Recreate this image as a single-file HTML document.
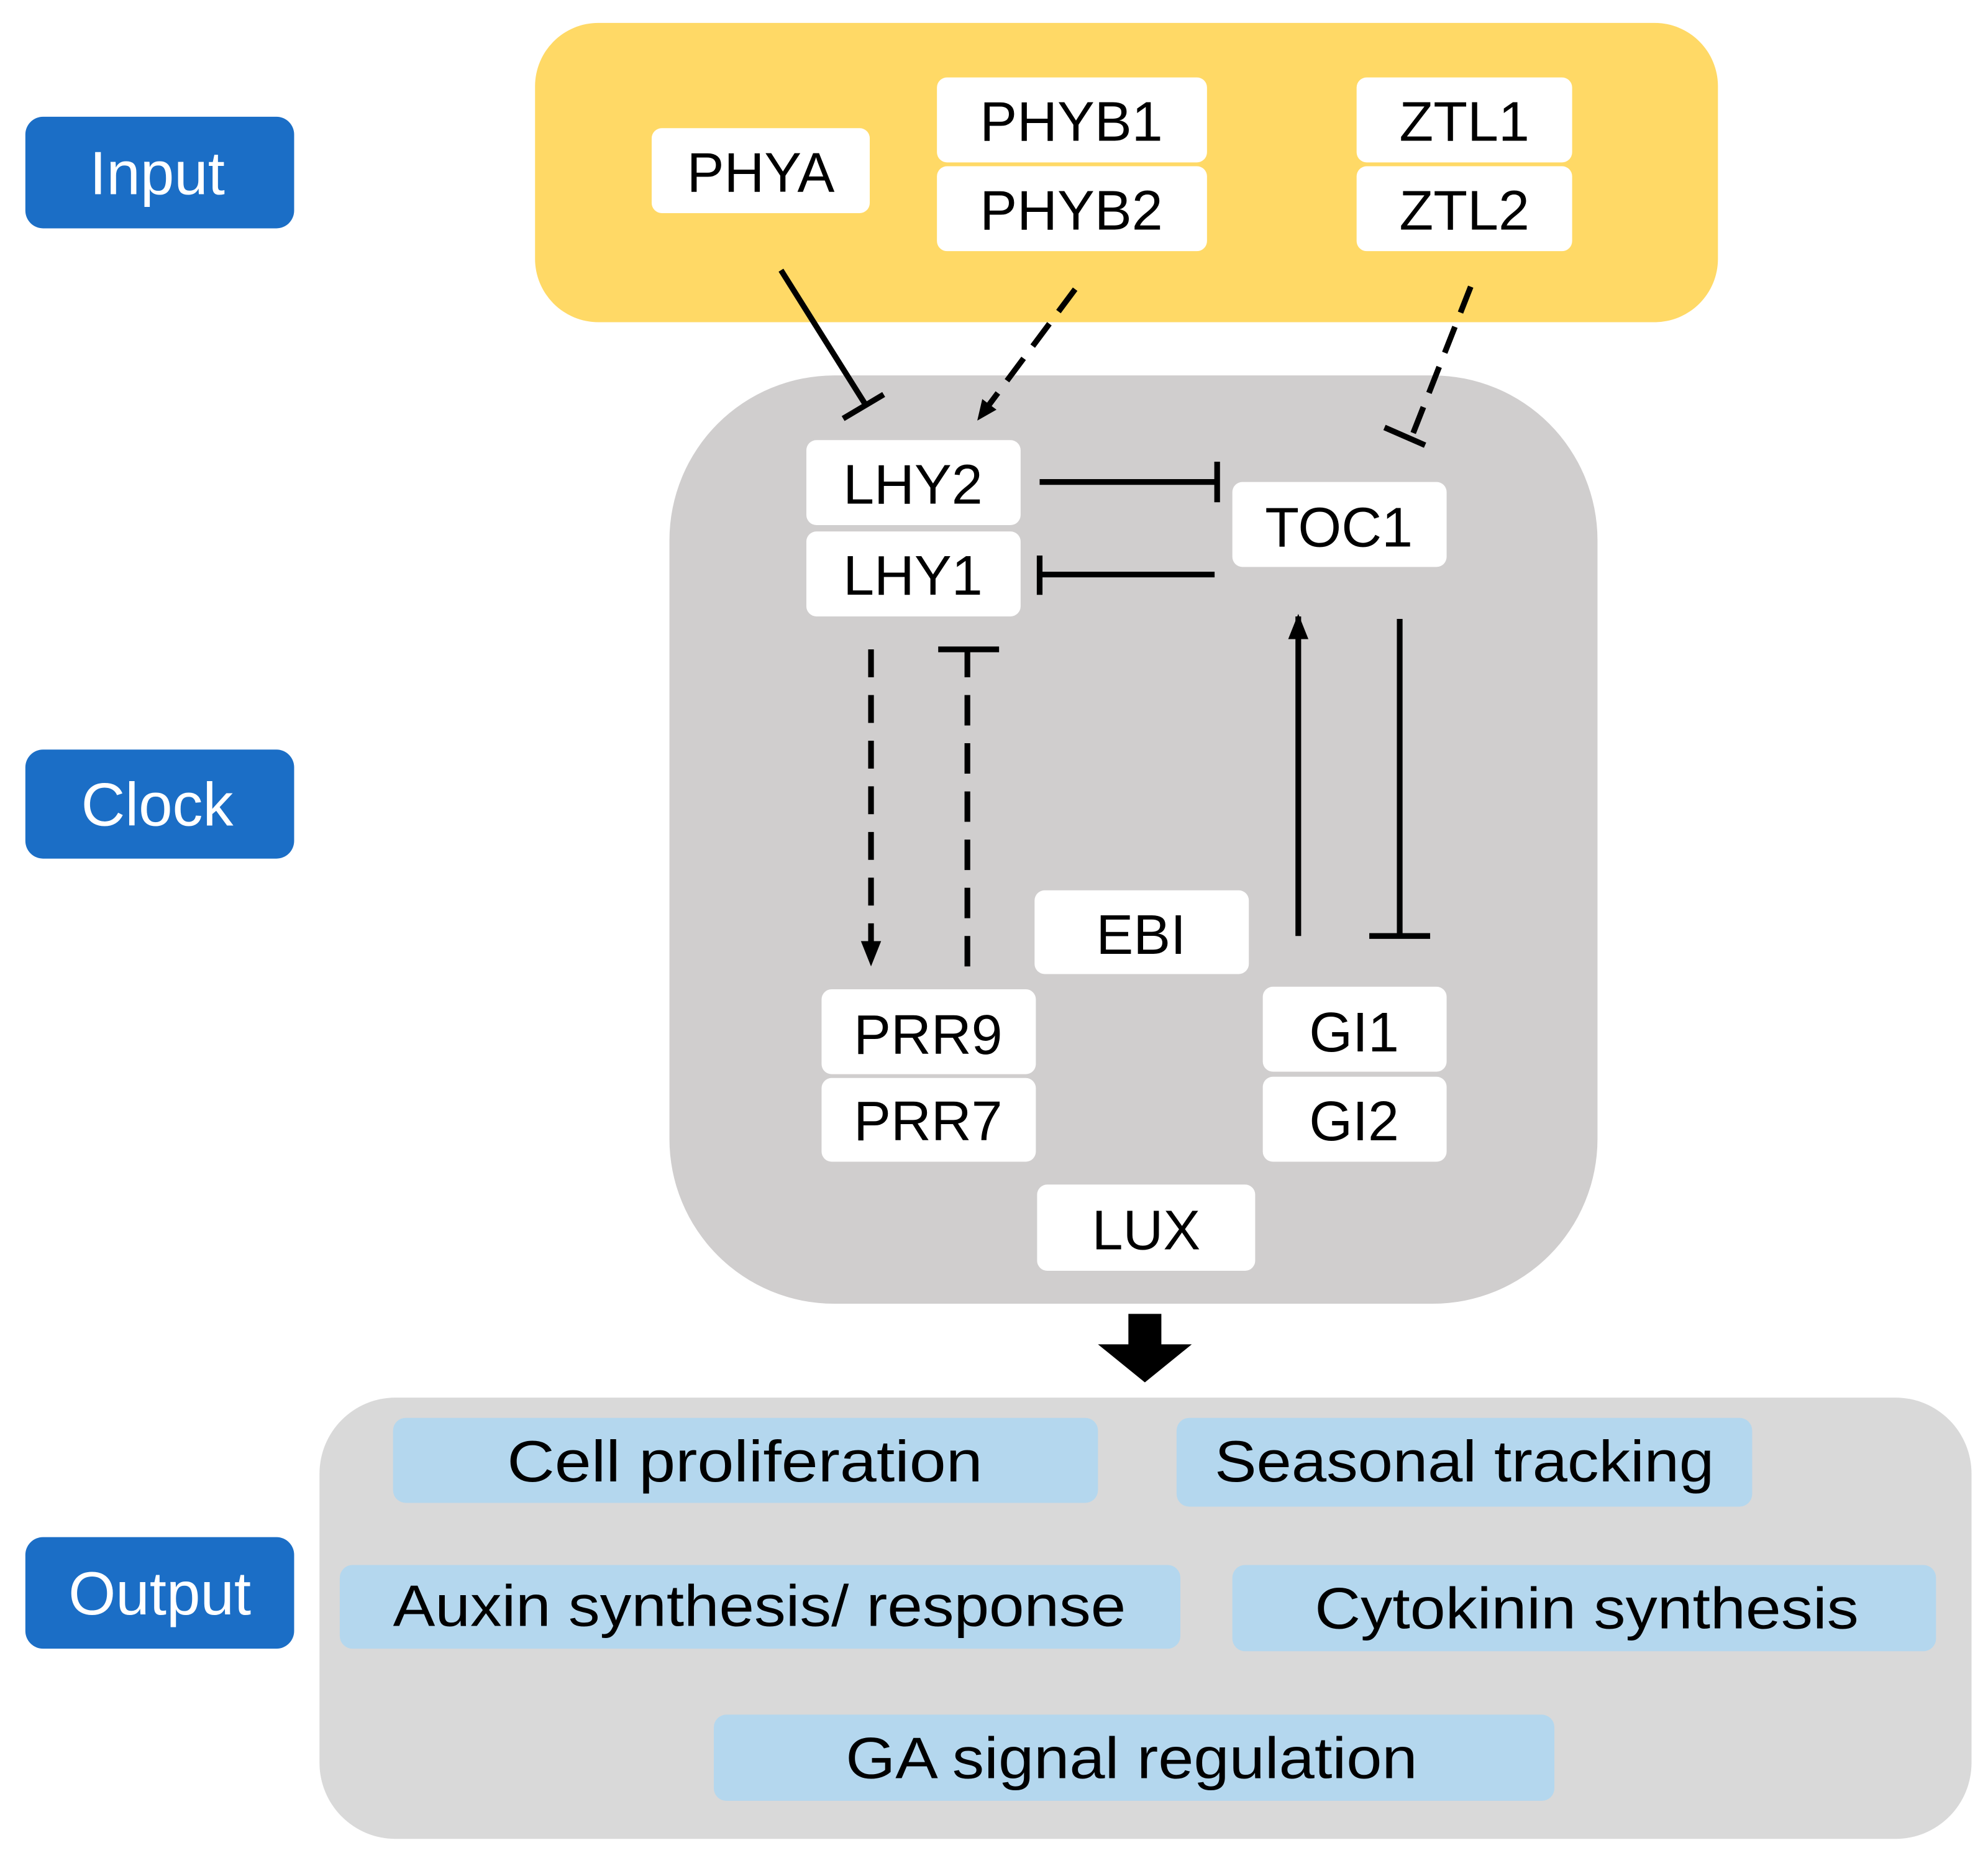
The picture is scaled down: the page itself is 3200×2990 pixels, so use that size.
<!DOCTYPE html>
<html><head><meta charset="utf-8"><style>
html,body{margin:0;padding:0;background:#fff;}
svg{display:block;}
text{font-family:"Liberation Sans",sans-serif;}
</style></head><body>
<svg width="3200" height="2990" viewBox="0 0 1568 1465" xmlns="http://www.w3.org/2000/svg">
<defs>
<marker id="ah" markerWidth="16" markerHeight="16" refX="14" refY="8" orient="auto" markerUnits="userSpaceOnUse">
<path d="M0,1 L16,8 L0,15 z" fill="#000"/></marker>
<marker id="ah2" markerWidth="20" markerHeight="18" refX="18" refY="9" orient="auto" markerUnits="userSpaceOnUse">
<path d="M0,1 L20,9 L0,17 z" fill="#000"/></marker>
</defs>
<rect width="1568" height="1465" fill="#fff"/>
<g fill="#1B6EC6">
<rect x="20" y="92" width="212" height="88" rx="14"/>
<rect x="20" y="591" width="212" height="86" rx="14"/>
<rect x="20" y="1212" width="212" height="88" rx="14"/>
</g>
<g fill="#fff" font-size="48" text-anchor="middle">
<text x="124" y="153">Input</text>
<text x="124" y="651">Clock</text>
<text x="126" y="1273">Output</text>
</g>
<rect x="422" y="18" width="933" height="236" rx="50" fill="#FFD966"/>
<rect x="528" y="296" width="732" height="732" rx="130" fill="#D0CECE"/>
<rect x="252" y="1102" width="1303" height="348" rx="60" fill="#D9D9D9"/>
<g fill="#fff">
<rect x="514" y="101" width="172" height="67" rx="8"/>
<rect x="739" y="61" width="213" height="67" rx="8"/>
<rect x="739" y="131" width="213" height="67" rx="8"/>
<rect x="1070" y="61" width="170" height="67" rx="8"/>
<rect x="1070" y="131" width="170" height="67" rx="8"/>
<rect x="636" y="347" width="169" height="67" rx="8"/>
<rect x="636" y="419" width="169" height="67" rx="8"/>
<rect x="972" y="380" width="169" height="67" rx="8"/>
<rect x="816" y="702" width="169" height="66" rx="8"/>
<rect x="648" y="780" width="169" height="67" rx="8"/>
<rect x="648" y="850" width="169" height="66" rx="8"/>
<rect x="996" y="778" width="145" height="67" rx="8"/>
<rect x="996" y="849" width="145" height="67" rx="8"/>
<rect x="818" y="934" width="172" height="68" rx="8"/>
</g>
<g fill="#000" font-size="44" text-anchor="middle">
<text x="600" y="151">PHYA</text>
<text x="845" y="111">PHYB1</text>
<text x="845" y="181">PHYB2</text>
<text x="1155" y="111">ZTL1</text>
<text x="1155" y="181">ZTL2</text>
<text x="720" y="397">LHY2</text>
<text x="720" y="469">LHY1</text>
<text x="1056" y="431">TOC1</text>
<text x="900" y="752">EBI</text>
<text x="732" y="831">PRR9</text>
<text x="732" y="899">PRR7</text>
<text x="1068" y="829">GI1</text>
<text x="1068" y="899">GI2</text>
<text x="904" y="985">LUX</text>
</g>
<g stroke="#000" stroke-width="4.5" fill="none">
<line x1="616" y1="213" x2="682" y2="318"/>
<line x1="665" y1="330" x2="697" y2="311"/>
<line x1="848" y1="228" x2="772" y2="330" stroke-dasharray="22,12" marker-end="url(#ah)"/>
<line x1="1160" y1="226" x2="1114" y2="343" stroke-dasharray="22,12"/>
<line x1="1092" y1="337" x2="1124" y2="351"/>
<line x1="820" y1="380" x2="958" y2="380"/>
<line x1="960" y1="364" x2="960" y2="396"/>
<line x1="958" y1="453" x2="822" y2="453"/>
<line x1="820" y1="438" x2="820" y2="469"/>
<line x1="687" y1="512" x2="687" y2="760" stroke-dasharray="22,14" marker-end="url(#ah2)"/>
<line x1="763" y1="762" x2="763" y2="514" stroke-dasharray="24,14"/>
<line x1="740" y1="512" x2="788" y2="512"/>
<line x1="1024" y1="738" x2="1024" y2="486" marker-end="url(#ah2)"/>
<line x1="1104" y1="488" x2="1104" y2="738"/>
<line x1="1080" y1="738" x2="1128" y2="738"/>
</g>
<path d="M890,1036 H916 V1060 H940 L903,1090 L866,1060 H890 Z" fill="#000"/>
<g fill="#B4D7EE">
<rect x="310" y="1118" width="556" height="67" rx="10"/>
<rect x="928" y="1118" width="454" height="70" rx="10"/>
<rect x="268" y="1234" width="663" height="66" rx="10"/>
<rect x="972" y="1234" width="555" height="68" rx="10"/>
<rect x="563" y="1352" width="663" height="68" rx="10"/>
</g>
<g fill="#000" font-size="46">
<text x="400" y="1168" textLength="375" lengthAdjust="spacingAndGlyphs">Cell proliferation</text>
<text x="958" y="1168" textLength="394" lengthAdjust="spacingAndGlyphs">Seasonal tracking</text>
<text x="310" y="1282" textLength="578" lengthAdjust="spacingAndGlyphs">Auxin synthesis/ response</text>
<text x="1037" y="1284" textLength="429" lengthAdjust="spacingAndGlyphs">Cytokinin synthesis</text>
<text x="667" y="1402" textLength="451" lengthAdjust="spacingAndGlyphs">GA signal regulation</text>
</g>
</svg>
</body></html>
